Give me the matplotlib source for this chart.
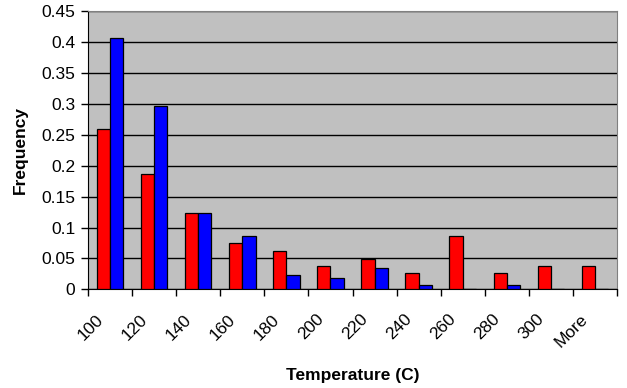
import numpy as np
import matplotlib
matplotlib.use('Agg')
import matplotlib.pyplot as plt
import matplotlib.transforms as mtransforms

# Histogram data
categories = ['100', '120', '140', '160', '180', '200', '220', '240', '260', '280', '300', 'More']
red_freq = [0.259, 0.187, 0.123, 0.075, 0.062, 0.037, 0.049, 0.026, 0.086, 0.026, 0.037, 0.037]
blue_freq = [0.406, 0.296, 0.123, 0.087, 0.023, 0.018, 0.034, 0.0065, 0.0, 0.0065, 0.0, 0.0]
y_ticks = [0, 0.05, 0.1, 0.15, 0.2, 0.25, 0.3, 0.35, 0.4, 0.45]
y_tick_labels = ['0', '0.05', '0.1', '0.15', '0.2', '0.25', '0.3', '0.35', '0.4', '0.45']

plt.rcParams['font.family'] = ['Liberation Sans', 'DejaVu Sans']

fig = plt.figure(figsize=(6.27, 3.88), dpi=100)
ax = fig.add_axes([88 / 627, 1 - 289.3 / 388, (617 - 88) / 627, (289.3 - 11.3) / 388])
ax.set_facecolor('#C0C0C0')

x = np.arange(len(categories))
w = 0.3
ax.bar(x - w / 2, red_freq, width=w, color='#FF0000', edgecolor='black', linewidth=0.9, zorder=3)
ax.bar(x + w / 2, blue_freq, width=w, color='#0000FF', edgecolor='black', linewidth=0.9, zorder=3)

ax.set_xlim(-0.5, len(categories) - 0.5)
ax.set_ylim(0, 0.45)

# horizontal gridlines
ax.set_yticks(y_ticks)
ax.set_yticklabels(y_tick_labels, fontsize=12.5)
ax.yaxis.grid(True, color='black', linewidth=1.0, zorder=1)
ax.set_axisbelow(True)
ax.tick_params(axis='y', direction='out', length=5, width=1, pad=4)

# category labels at centers, tick marks at boundaries
ax.set_xticks(x)
ax.set_xticklabels(categories, fontsize=12.5, rotation=45, ha='right', va='top')
ax.set_xticks(np.arange(len(categories) + 1) - 0.5, minor=True)
ax.tick_params(axis='x', which='major', length=0, pad=16)
ax.tick_params(axis='x', which='minor', direction='out', length=5, width=1)
offset = mtransforms.ScaledTranslation(-4 / 100, 0, fig.dpi_scale_trans)
for lbl in ax.get_xticklabels():
    lbl.set_transform(lbl.get_transform() + offset)

for side in ['top', 'right']:
    ax.spines[side].set_color('#808080')
for side in ['left', 'bottom']:
    ax.spines[side].set_color('black')

ax.set_ylabel('Frequency', fontsize=12.5, fontweight='bold', labelpad=10)
ax.set_xlabel('Temperature (C)', fontsize=12.5, fontweight='bold', labelpad=13)

fig.savefig('out.png', dpi=100)
